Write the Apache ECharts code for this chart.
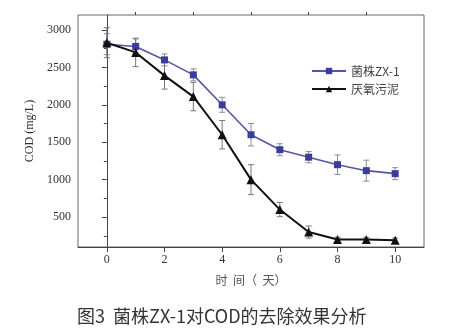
<!DOCTYPE html>
<html>
<head>
<meta charset="utf-8">
<script src="https://cdn.jsdelivr.net/npm/echarts@6/dist/echarts.min.js"></script>
<style>
  html, body { margin: 0; padding: 0; background: #fff; }
  #chart { width: 452px; height: 334px; }
</style>
</head>
<body>
<div id="chart"></div>
<script>
// Days of incubation
const days = [0, 1, 2, 3, 4, 5, 6, 7, 8, 9, 10];
// COD (mg/L) for strain ZX-1 and anaerobic sludge, with their error ranges
const strainCOD = [2810, 2780, 2600, 2400, 2000, 1600, 1400, 1300, 1200, 1120, 1080];
const strainErr = [140, 100, 80, 80, 100, 150, 80, 75, 130, 140, 80];
const sludgeCOD = [2830, 2700, 2390, 2110, 1600, 1000, 600, 300, 200, 200, 190];
const sludgeErr = [200, 190, 180, 190, 190, 200, 95, 80, 30, 25, 30];

const seriesNames = ['菌株ZX-1', '厌氧污泥'];
const xTicks = [0, 2, 4, 6, 8, 10];
const xMinorTicks = [1, 3, 5, 7, 9];
const yTicks = [500, 1000, 1500, 2000, 2500, 3000];
const yMinorTicks = [250, 750, 1250, 1750, 2250, 2750];

const serif = '"Liberation Serif", "DejaVu Serif", serif';
const cjk = '"Noto Sans CJK SC", sans-serif';
const axisColor = '#444';

function pairs(ys) { return days.map((d, i) => [d, ys[i]]); }

function errorBars(ys, errs, color) {
  return {
    type: 'custom',
    silent: true,
    z: 1,
    data: days.map((d, i) => [d, ys[i] - errs[i], ys[i] + errs[i]]),
    renderItem: function (params, api) {
      const lo = api.coord([api.value(0), api.value(1)]);
      const hi = api.coord([api.value(0), api.value(2)]);
      const w = 3;
      const style = { stroke: color, lineWidth: 1 };
      return {
        type: 'group',
        children: [
          { type: 'line', shape: { x1: lo[0], y1: lo[1], x2: hi[0], y2: hi[1] }, style },
          { type: 'line', shape: { x1: lo[0] - w, y1: lo[1], x2: lo[0] + w, y2: lo[1] }, style },
          { type: 'line', shape: { x1: hi[0] - w, y1: hi[1], x2: hi[0] + w, y2: hi[1] }, style }
        ]
      };
    }
  };
}

const baseX = { type: 'value', min: -1, max: 11, gridIndex: 0 };
const baseY = { type: 'value', min: 100, max: 3200, gridIndex: 0 };

const chart = echarts.init(document.getElementById('chart'));
chart.setOption({
  animation: false,
  backgroundColor: '#fff',
  grid: { left: 78, top: 15, right: 28, bottom: 87, show: true, borderColor: '#666', borderWidth: 1 },
  legend: {
    data: seriesNames,
    left: 306, top: 60,
    orient: 'vertical',
    itemGap: 6,
    itemWidth: 34, itemHeight: 8,
    textStyle: { fontFamily: cjk, fontSize: 12, color: '#444' }
  },
  xAxis: [
    Object.assign({}, baseX, {
      name: '时  间（  天）',
      nameLocation: 'middle',
      nameGap: 27,
      nameTextStyle: { fontFamily: cjk, fontSize: 12, color: '#555' },
      axisLine: { lineStyle: { color: axisColor } },
      axisTick: { customValues: xTicks, length: 5, lineStyle: { color: axisColor } },
      axisLabel: { customValues: xTicks, fontFamily: serif, fontSize: 12, color: '#333', margin: 7 },
      splitLine: { show: false }
    }),
    Object.assign({}, baseX, {
      axisLine: { show: false },
      axisTick: { customValues: xMinorTicks, length: 3, lineStyle: { color: axisColor } },
      axisLabel: { show: false },
      splitLine: { show: false }
    })
  ],
  yAxis: [
    Object.assign({}, baseY, {
      name: 'COD (mg/L)',
      nameLocation: 'middle',
      nameGap: 40,
      nameTextStyle: { fontFamily: serif, fontSize: 12, color: '#333' },
      axisLine: { show: true, lineStyle: { color: axisColor } },
      axisTick: { show: true, customValues: yTicks, length: 5, lineStyle: { color: axisColor } },
      axisLabel: {
        customValues: yTicks, fontFamily: serif, fontSize: 12, color: '#333', margin: 7,
        formatter: v => String(v)
      },
      splitLine: { show: false }
    }),
    Object.assign({}, baseY, {
      position: 'left',
      axisLine: { show: false },
      axisTick: { show: true, customValues: yMinorTicks, length: 3, lineStyle: { color: axisColor } },
      axisLabel: { show: false },
      splitLine: { show: false }
    })
  ],
  series: [
    errorBars(strainCOD, strainErr, '#8a8a9a'),
    errorBars(sludgeCOD, sludgeErr, '#777'),
    {
      name: seriesNames[0],
      type: 'line',
      data: pairs(strainCOD),
      symbol: 'rect',
      symbolSize: 7,
      z: 3,
      lineStyle: { color: '#5656a8', width: 1.6 },
      itemStyle: { color: '#3c3c9c' }
    },
    {
      name: seriesNames[1],
      type: 'line',
      data: pairs(sludgeCOD),
      symbol: 'triangle',
      symbolSize: 9,
      z: 4,
      lineStyle: { color: '#111', width: 2 },
      itemStyle: { color: '#111' }
    }
  ],
  graphic: [{
    type: 'text',
    left: 77, top: 307,
    style: { text: '图3  菌株ZX-1对COD的去除效果分析', fontFamily: cjk, fontSize: 18, fill: '#333' }
  }]
});
</script>
</body>
</html>
